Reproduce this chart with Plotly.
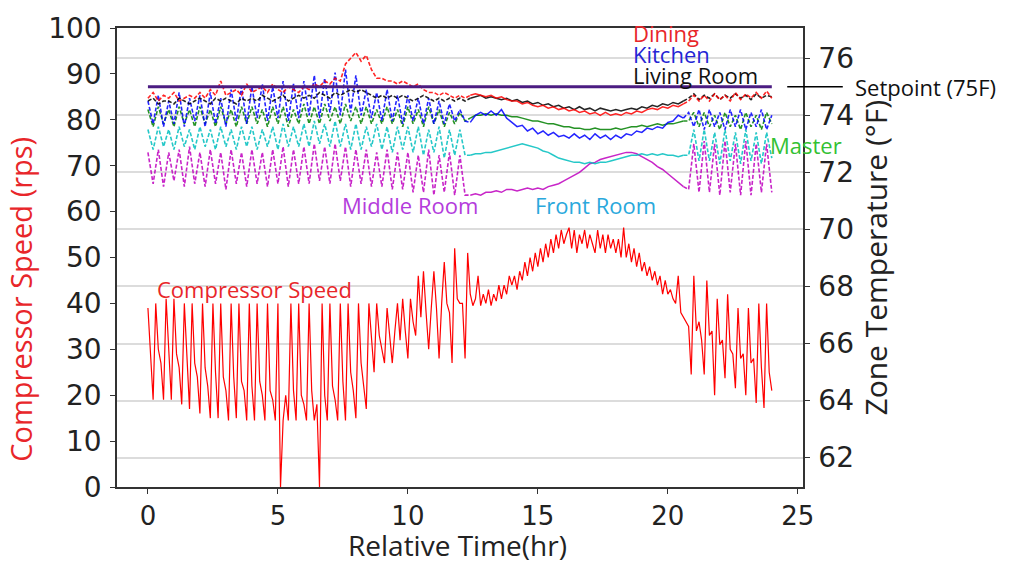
import plotly.graph_objects as go

# Sampling times (hours) for the two logged signals
speed_hours = [round(0.1 * k, 1) for k in range(241)]
temp_hours = [round(0.2 * k, 1) for k in range(121)]

# Compressor speed (rps), one value every 0.1 hr
compressor_speed = [
    39, 28, 19, 40, 30, 27, 19, 41, 31, 19,
    41, 29, 26, 18, 40, 28, 17, 40, 27, 24,
    16, 40, 26, 22, 15, 40, 25, 15, 40, 24,
    21, 14.5, 40, 24, 15, 40, 23, 21, 14.5, 40,
    22, 14.5, 40, 23, 20, 14.5, 40, 21, 19, 14.5,
    40, 0, 14.5, 20, 14.5, 40, 21, 14.5, 40, 20,
    18, 14.5, 40, 21, 14.5, 18, 0, 40, 20, 14.5,
    40, 22, 19, 14.5, 40, 23, 14.5, 40, 25, 21,
    15, 40, 27, 22, 17, 40, 32, 25, 40, 33,
    30, 27, 39, 33, 27, 34, 40, 32, 41, 34,
    28, 41, 36, 33, 46, 37, 47, 38, 30, 39,
    47, 39, 28, 40, 49, 40, 38, 27, 52, 41,
    40, 40, 28, 51, 42, 39.5, 41, 46, 39.5, 42,
    40, 43, 39.5, 42, 40.5, 44, 41, 44, 42, 46,
    44, 46, 43, 47, 45, 49, 46, 50, 47, 51,
    48, 52, 49, 53, 50, 54, 51, 55, 52, 56,
    53, 55, 56.5, 52, 56, 51, 55, 53, 56, 52,
    55, 53, 51, 56, 52, 55, 51, 55, 52, 54,
    51, 54, 50, 56.5, 50, 53, 49, 52, 48, 51,
    47, 49, 46, 48, 45, 47, 44, 46, 42, 45,
    42, 43, 41, 40, 46, 38, 37, 36, 35, 24.5,
    46, 34, 36, 32, 24.5, 45, 33, 34, 20, 41,
    31, 32, 23.7, 42, 30, 29, 21.5, 39, 28, 29,
    20, 39, 27, 28, 18.3, 40, 26, 17.2, 40, 25, 21,
]

# Zone temperatures (deg F), one value every 0.2 hr
dining = [
    74.6, 74.8, 74.5, 74.7, 74.6, 74.8, 74.5, 74.6, 74.7, 74.6,
    74.8, 74.6, 74.9, 74.7, 75.2, 74.7, 74.8, 74.9, 74.7, 75.1,
    74.8, 74.9, 75.0, 74.8, 75.1, 74.9, 74.8, 75.0, 74.9, 74.8,
    75.0, 74.9, 75.1, 75.0, 75.2, 75.1, 75.3, 75.2, 75.8, 76.0,
    76.2, 75.9, 76.1, 75.6, 75.3, 75.3, 75.2, 75.2, 75.1, 75.2,
    75.1, 75.0, 75.1, 74.9, 74.8, 74.8, 74.7, 74.8, 74.7, 74.6,
    74.7, 74.6,
    74.7, 74.75, 74.7, 74.65, 74.7, 74.6, 74.65, 74.55, 74.5, 74.5,
    74.4, 74.45, 74.35, 74.3, 74.35, 74.25, 74.3, 74.2, 74.25, 74.15,
    74.2, 74.1, 74.15, 74.05, 74.1, 74.0, 74.1, 74.0, 74.05, 74.0,
    74.1, 74.05, 74.15, 74.1, 74.2, 74.25, 74.2, 74.3, 74.25, 74.35,
    74.3, 74.4,
    74.5, 74.7, 74.5, 74.7, 74.5, 74.75, 74.55, 74.7, 74.5, 74.8,
    74.55, 74.75, 74.6, 74.8, 74.6, 74.85, 74.6,
]

kitchen = [
    74.5, 73.7, 74.7, 73.6, 74.5, 73.7, 74.8, 73.6, 74.6, 73.8,
    74.7, 73.6, 74.8, 73.7, 74.6, 73.6, 74.9, 73.8, 75.0, 73.7,
    75.0, 73.9, 75.1, 73.8, 75.0, 73.9, 75.2, 73.8, 75.1, 73.9,
    75.2, 74.0, 75.4, 73.9, 75.3, 74.1, 75.5, 74.0, 75.6, 74.1,
    75.4, 74.0, 74.9, 73.9, 74.8, 73.8, 74.9, 73.8, 74.7, 73.7,
    74.7, 73.8, 74.6, 73.7, 74.6, 73.7, 74.5, 73.7, 74.4, 73.8,
    74.2, 73.8,
    73.75, 74.0, 74.1, 74.0, 74.15, 74.0, 74.2, 73.9, 73.75, 73.6,
    73.65, 73.45, 73.55, 73.35, 73.45, 73.3, 73.4, 73.25, 73.3, 73.2,
    73.35, 73.2, 73.3, 73.15, 73.35, 73.2, 73.3, 73.15, 73.3, 73.2,
    73.35, 73.3, 73.45, 73.4, 73.55, 73.5, 73.6, 73.55, 73.75, 73.8,
    74.0, 73.9,
    74.1, 73.6, 74.2, 73.5, 74.2, 73.6, 74.1, 73.5, 74.2, 73.6,
    74.2, 73.5, 74.1, 73.6, 74.2, 73.5, 74.0,
]

living_room = [
    74.5, 74.6, 74.4, 74.5, 74.5, 74.4, 74.6, 74.5, 74.4, 74.5,
    74.6, 74.5, 74.4, 74.6, 74.5, 74.6, 74.5, 74.4, 74.6, 74.5,
    74.6, 74.5, 74.7, 74.6, 74.5, 74.6, 74.7, 74.5, 74.6, 74.7,
    74.6, 74.7, 74.6, 74.8, 74.7, 74.6, 74.8, 74.7, 74.8, 74.9,
    74.8, 74.9, 74.8, 74.7, 74.6, 74.7, 74.6, 74.7, 74.6, 74.7,
    74.6, 74.5, 74.6, 74.7, 74.6, 74.5, 74.6, 74.5, 74.6, 74.5,
    74.6, 74.5,
    74.6, 74.65, 74.7, 74.6, 74.65, 74.6, 74.55, 74.6, 74.5, 74.55,
    74.45, 74.5, 74.4, 74.45, 74.35, 74.4, 74.3, 74.35, 74.25, 74.3,
    74.2, 74.3, 74.2, 74.25, 74.15, 74.25, 74.2, 74.15, 74.2, 74.15,
    74.2, 74.25, 74.2, 74.3, 74.25, 74.35, 74.3, 74.4, 74.35, 74.45,
    74.4, 74.5,
    74.6, 74.75, 74.55, 74.7, 74.6, 74.75, 74.55, 74.7, 74.6, 74.75,
    74.6, 74.7, 74.55, 74.75, 74.6, 74.7, 74.65,
]

master = [
    74.2, 73.6, 74.3, 73.7, 74.2, 73.6, 74.3, 73.7, 74.2, 73.6,
    74.3, 73.7, 74.2, 73.6, 74.3, 73.7, 74.2, 73.6, 74.3, 73.7,
    74.3, 73.7, 74.2, 73.6, 74.3, 73.7, 74.3, 73.6, 74.2, 73.7,
    74.4, 73.7, 74.3, 73.7, 74.4, 73.8, 74.3, 73.7, 74.4, 73.8,
    74.3, 73.7, 74.3, 73.7, 74.2, 73.7, 74.3, 73.7, 74.2, 73.6,
    74.3, 73.7, 74.2, 73.6, 74.3, 73.7, 74.2, 73.6, 74.1, 73.7,
    74.1, 73.8,
    73.9, 74.0, 74.0, 74.05, 74.0, 74.05, 74.0, 74.0, 73.95, 73.95,
    73.9, 73.85, 73.8, 73.8, 73.75, 73.7, 73.7, 73.65, 73.6, 73.6,
    73.55, 73.55, 73.5, 73.5, 73.55, 73.5, 73.5, 73.5, 73.55, 73.5,
    73.55, 73.6, 73.6, 73.65, 73.6, 73.65, 73.7, 73.65, 73.7, 73.7,
    73.75, 73.8,
    73.8, 74.1, 73.6, 74.1, 73.6, 74.0, 73.5, 74.1, 73.6, 74.0,
    73.5, 74.1, 73.6, 74.0, 73.5, 74.1, 73.7,
]

front_room = [
    73.5, 72.8, 73.6, 72.9, 73.5, 72.8, 73.6, 72.9, 73.5, 72.8,
    73.6, 72.9, 73.5, 72.8, 73.6, 72.9, 73.5, 72.8, 73.6, 72.9,
    73.6, 72.8, 73.5, 72.9, 73.6, 72.8, 73.7, 72.9, 73.6, 72.9,
    73.7, 72.9, 73.8, 73.0, 73.7, 72.9, 73.8, 72.9, 73.7, 72.8,
    73.7, 72.8, 73.6, 72.9, 73.7, 72.8, 73.6, 72.7, 73.6, 72.8,
    73.6, 72.7, 73.6, 72.6, 73.5, 72.7, 73.6, 72.5, 73.5, 72.6,
    73.5, 72.6,
    72.6, 72.65, 72.65, 72.7, 72.7, 72.75, 72.8, 72.85, 72.9, 72.95,
    73.0, 72.95, 72.9, 72.85, 72.75, 72.7, 72.6, 72.5, 72.45, 72.4,
    72.35, 72.35, 72.3, 72.35, 72.3, 72.35, 72.35, 72.4, 72.45, 72.5,
    72.55, 72.6, 72.6, 72.65, 72.6, 72.65, 72.6, 72.65, 72.6, 72.6,
    72.55, 72.6,
    72.6, 73.5, 72.4, 73.5, 72.4, 73.4, 72.3, 73.5, 72.4, 73.4,
    72.3, 73.5, 72.4, 73.4, 72.3, 73.4, 72.5,
]

middle_room = [
    72.7, 71.6, 72.8, 71.5, 72.7, 71.7, 72.8, 71.5, 72.9, 71.6,
    72.7, 71.5, 72.8, 71.6, 72.7, 71.4, 72.8, 71.6, 72.7, 71.5,
    72.8, 71.6, 72.7, 71.5, 72.8, 71.6, 72.9, 71.5, 72.8, 71.6,
    72.9, 71.6, 73.0, 71.7, 72.9, 71.6, 73.0, 71.7, 72.9, 71.5,
    72.8, 71.6, 72.8, 71.5, 72.7, 71.5, 72.8, 71.4, 72.7, 71.4,
    72.7, 71.3, 72.6, 71.3, 72.8, 71.2, 72.6, 71.3, 72.7, 71.2,
    72.6, 71.2,
    71.2, 71.25, 71.2, 71.3, 71.3, 71.35, 71.3, 71.4, 71.4, 71.35,
    71.4, 71.45, 71.4, 71.45, 71.4, 71.5, 71.55, 71.6, 71.7, 71.8,
    71.9, 72.0, 72.15, 72.3, 72.35, 72.45, 72.5, 72.55, 72.6, 72.65,
    72.7, 72.7, 72.65, 72.55, 72.45, 72.35, 72.2, 72.1, 71.95, 71.8,
    71.65, 71.5,
    71.4, 73.0, 71.3, 73.1, 71.3, 73.0, 71.2, 73.1, 71.3, 73.0,
    71.2, 73.1, 71.2, 73.0, 71.3, 73.0, 71.3,
]

setpoint_hours = [0, 24]
setpoint_temp = [75, 75]

left_ticks = list(range(0, 101, 10))
right_ticks = list(range(62, 77, 2))
time_ticks = [0, 5, 10, 15, 20, 25]

# Sample ranges of the temperature logs: thermostat cycling (drawn dotted)
# and the steady afternoon stretch (drawn solid)
cycling_ranges = [(0, 63), (103, 121)]
steady_range = (62, 104)

fig = go.Figure()

fig.add_trace(go.Scatter(
    x=speed_hours, y=compressor_speed, mode="lines",
    line=dict(color="#ff0000", width=1.2), yaxis="y",
    name="Compressor Speed",
))

zones = [
    ("Middle Room", middle_room, "#bf00bf"),
    ("Front Room", front_room, "#00bfbf"),
    ("Master", master, "#008000"),
    ("Kitchen", kitchen, "#0000ff"),
    ("Living Room", living_room, "#000000"),
    ("Dining", dining, "#ff0000"),
]
for name, values, color in zones:
    for a, b in cycling_ranges:
        fig.add_trace(go.Scatter(
            x=temp_hours[a:b], y=values[a:b], mode="lines", name=name,
            line=dict(color=color, width=1.6, dash="4px,2px"),
            opacity=0.85, yaxis="y2",
        ))
    a, b = steady_range
    fig.add_trace(go.Scatter(
        x=temp_hours[a:b], y=values[a:b], mode="lines", name=name,
        line=dict(color=color, width=1.5), opacity=0.85, yaxis="y2",
    ))

fig.add_trace(go.Scatter(
    x=setpoint_hours, y=setpoint_temp, mode="lines", name="Setpoint",
    line=dict(color="#4b1c82", width=3), yaxis="y2",
))

label_font = "Open Sans"
axis_line = dict(showline=True, linecolor="#333333", linewidth=1.5,
                 ticks="outside", ticklen=5, tickcolor="#333333",
                 tickwidth=1.3, zeroline=False)
x_tick_font = dict(family="DejaVu Sans", size=26, color="#222222")
y_tick_font = dict(family="DejaVu Sans", size=28, color="#222222")

fig.update_layout(
    width=1011, height=563,
    margin=dict(l=117, r=208, t=22, b=76),
    paper_bgcolor="white", plot_bgcolor="white",
    showlegend=False,
    xaxis=dict(range=[-1.19, 25.2], tickvals=time_ticks, mirror=True,
               showgrid=False, tickfont=x_tick_font, **axis_line),
    yaxis=dict(range=[0, 100], tickvals=left_ticks, showgrid=False,
               tickfont=y_tick_font, ticklabelstandoff=3, **axis_line),
    yaxis2=dict(range=[60.97, 77.06], tickvals=right_ticks, overlaying="y",
                side="right", showgrid=True, gridcolor="#dcdcdc",
                gridwidth=1.5, tickfont=y_tick_font, ticklabelstandoff=3,
                **axis_line),
)

# Setpoint marker line next to the right axis
fig.add_shape(type="line", xref="paper", yref="y2", x0=0.977, x1=1.058,
              y0=75, y1=75, line=dict(color="#000000", width=1.5))

annotations = [
    dict(text="Dining", x=18.6, y=76.87, xref="x", yref="y2",
         color="#e8262a", anchor="left"),
    dict(text="Kitchen", x=18.6, y=76.14, xref="x", yref="y2",
         color="#2424d4", anchor="left"),
    dict(text="Living Room", x=18.6, y=75.42, xref="x", yref="y2",
         color="#111111", anchor="left"),
    dict(text="Setpoint (75F)", x=1.073, y=75, xref="paper", yref="y2",
         color="#111111", anchor="left"),
    dict(text="Master", x=23.85, y=72.95, xref="x", yref="y2",
         color="#33c133", anchor="left"),
    dict(text="Middle Room", x=10.1, y=70.84, xref="x", yref="y2",
         color="#b43cdc", anchor="center"),
    dict(text="Front Room", x=17.2, y=70.84, xref="x", yref="y2",
         color="#2aa8dc", anchor="center"),
    dict(text="Compressor Speed", x=4.1, y=43.2, xref="x", yref="y",
         color="#e8262a", anchor="center"),
]
for a in annotations:
    fig.add_annotation(
        text=a["text"], x=a["x"], y=a["y"], xref=a["xref"], yref=a["yref"],
        xanchor=a["anchor"], yanchor="middle", showarrow=False,
        font=dict(family=label_font, size=22, color=a["color"]),
    )

# Axis titles
fig.add_annotation(text="Compressor Speed (rps)", xref="paper", yref="paper",
                   x=-0.14, y=0.41, textangle=-90, showarrow=False,
                   xanchor="center", yanchor="middle",
                   font=dict(family=label_font, size=29, color="#e8262a"))
fig.add_annotation(text="Zone Temperature (°F)", xref="paper", yref="paper",
                   x=1.105, y=0.5, textangle=-90, showarrow=False,
                   xanchor="center", yanchor="middle",
                   font=dict(family=label_font, size=30, color="#222222"))
fig.add_annotation(text="Relative Time(hr)", xref="paper", yref="paper",
                   x=0.496, y=-0.126, showarrow=False,
                   xanchor="center", yanchor="middle",
                   font=dict(family=label_font, size=28, color="#222222"))

fig.write_html("out.html")
